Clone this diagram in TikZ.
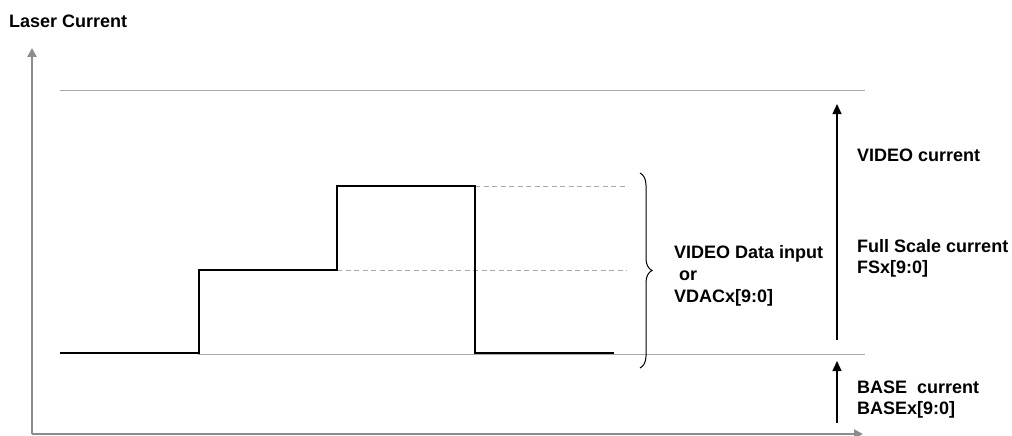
\documentclass[tikz,border=0pt]{standalone}
\usepackage{fontspec}
\setmainfont{Liberation Sans}
\usetikzlibrary{arrows.meta,decorations.pathreplacing}
\definecolor{axisgray}{HTML}{8C8C8C}
\definecolor{linegray}{HTML}{A8A8A8}
\begin{document}
\begin{tikzpicture}[x=1pt,y=-1pt,
  lbl/.style={anchor=base west,inner sep=0pt,font=\fontsize{18}{21}\selectfont\bfseries},
  axis/.style={draw=axisgray,line width=2.5pt,-{Triangle[length=9pt,width=9pt]}},
  refline/.style={draw=linegray,line width=1pt},
  dashref/.style={draw=linegray,line width=1pt,dash pattern=on 5pt off 3.5pt},
  wave/.style={draw=black,line width=2.4pt},
  meas/.style={draw=black,line width=1.3pt,-{Triangle[length=10pt,width=9pt]}},
  bracestyle/.style={draw=black,line width=1pt,decorate,decoration={brace,amplitude=12pt}}]
\useasboundingbox (0,0) rectangle (1012,436);
% coordinates
\coordinate (origin) at (32,434);
\coordinate (ytip) at (32,48);
\coordinate (xtip) at (863,434);
\coordinate (topL) at (60,90);
\coordinate (topR) at (865,90);
\coordinate (baseL) at (198,354);
\coordinate (baseR) at (865,354);
\coordinate (w0) at (60,353);
\coordinate (w1) at (199,353);
\coordinate (w2) at (199,270);
\coordinate (w3) at (337,270);
\coordinate (w4) at (337,186);
\coordinate (w5) at (475,186);
\coordinate (w6) at (475,353);
\coordinate (w7) at (614,353);
\coordinate (d1e) at (628,186);
\coordinate (d2e) at (627,270);
\coordinate (brT) at (640,173);
\coordinate (brB) at (640,368);
\coordinate (vS) at (837,340);
\coordinate (vE) at (837,104);
\coordinate (bS) at (837,423);
\coordinate (bE) at (837,361);
% reference lines
\draw[refline] (topL) -- (topR);
\draw[refline] (baseL) -- (baseR);
\draw[dashref] (w5) -- (d1e);
\draw[dashref] (w3) -- (d2e);
% axes
\draw[axis] (origin) -- (ytip);
\draw[axis] (origin) -- (xtip);
% waveform
\draw[wave] (w0) -- (w1) -- (w2) -- (w3) -- (w4) -- (w5) -- (w6) -- (w7);
% brace
\draw[bracestyle] (brT) -- (brB);
% measurement arrows
\draw[meas] (vS) -- (vE);
\draw[meas] (bS) -- (bE);
% labels
\node[lbl] (ylabel) at (9,28) {Laser Current};
\node[lbl] (vcur) at (857,161) {VIDEO current};
\node[lbl] (fs1) at (857,252) {Full Scale current};
\node[lbl] (fs2) at (857,273) {FSx[9:0]};
\node[lbl] (vd1) at (674,258) {VIDEO Data input};
\node[lbl] (vd2) at (674,280) {\ or};
\node[lbl] (vd3) at (674,302) {VDACx[9:0]};
\node[lbl] (bc1) at (857,393) {BASE\ \ current};
\node[lbl] (bc2) at (857,414) {BASEx[9:0]};
\end{tikzpicture}
\end{document}
